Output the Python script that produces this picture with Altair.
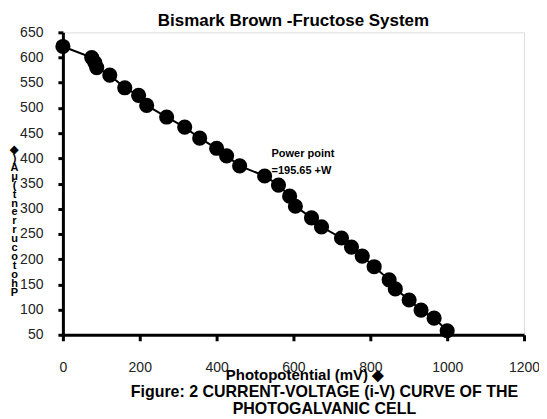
import altair as alt
import pandas as pd

# Data
potential_mv = [0, 75, 83, 88, 122, 161, 197, 218, 270, 317, 356, 400, 426, 460,
                525, 561, 590, 605, 647, 673, 725, 751, 779, 810, 849, 865, 901,
                932, 966, 1000]
current_ua = [622, 600, 590, 580, 565, 540, 525, 505, 482, 462, 440, 420, 405, 385,
              365, 347, 325, 305, 282, 264, 242, 224, 206, 185, 159, 141, 119,
              99, 83, 58]

x_ticks = [0, 200, 400, 600, 800, 1000, 1200]
y_ticks = [50, 100, 150, 200, 250, 300, 350, 400, 450, 500, 550, 600, 650]

title_text = "Bismark Brown -Fructose System"
x_title = "Photopotential (mV) \u25c6"
y_title_letters = ["\u25c6", ")", "A", "\u03bc", "(", "t", "n", "e", "r", "r",
                   "u", "c", "o", "t", "o", "h", "P"]
annot_lines = ["Power point", "=195.65 +W"]
caption_lines = ["Figure: 2  CURRENT-VOLTAGE (i-V) CURVE OF THE",
                 "PHOTOGALVANIC CELL"]

FONT = "Liberation Sans"

df = pd.DataFrame({"x": potential_mv, "y": current_ua})

xscale = alt.Scale(domain=[0, 1200], nice=False, zero=False)
yscale = alt.Scale(domain=[50, 650], nice=False, zero=False)

xaxis = alt.Axis(values=x_ticks, format="d", grid=False, domainColor="black", domainWidth=3,
                 tickColor="black", tickWidth=3, tickSize=6, labelFont=FONT,
                 labelFontSize=14, labelColor="#222", labelPadding=20,
                 labelOverlap=False, labelFlush=False,
                 title=x_title, titleFont=FONT, titleFontSize=15, titleFontWeight="bold",
                 titleX=242, titleY=40, titleBaseline="middle", titleAnchor=None)
yaxis = alt.Axis(values=y_ticks, format="d", grid=False, domainColor="black", domainWidth=3,
                 tickColor="black", tickWidth=3, tickSize=5, labelFont=FONT,
                 labelFontSize=14, labelColor="#222", labelPadding=15,
                 labelOverlap=False, labelFlush=False, labelSeparation=0,
                 title=y_title_letters, titleFont=FONT, titleFontSize=11,
                 titleFontWeight="bold", titleAngle=0, titleLineHeight=9,
                 titleAlign="center", titleBaseline="top", titleX=-49, titleY=111)

base = alt.Chart(df).encode(
    x=alt.X("x:Q", scale=xscale, axis=xaxis),
    y=alt.Y("y:Q", scale=yscale, axis=yaxis),
)
line = base.mark_line(color="black", strokeWidth=2)
pts = base.mark_point(filled=True, color="black", opacity=1, size=230, shape="circle")

annot_df = pd.DataFrame({"x": [543, 543], "y": [408, 375], "t": annot_lines})
annot = alt.Chart(annot_df).mark_text(font=FONT, fontSize=11, fontWeight="bold",
                                      align="left", baseline="middle", color="black").encode(
    x=alt.X("x:Q", scale=xscale, axis=xaxis), y=alt.Y("y:Q", scale=yscale, axis=yaxis),
    text="t:N")

cap_df = pd.DataFrame({"t": caption_lines, "row": [0, 1]})
cap1 = alt.Chart(cap_df.iloc[[0]]).mark_text(font=FONT, fontSize=16, fontWeight="bold",
                                             align="center", baseline="middle").encode(
    x=alt.value(262), y=alt.value(360), text="t:N")
cap2 = alt.Chart(cap_df.iloc[[1]]).mark_text(font=FONT, fontSize=16, fontWeight="bold",
                                             align="center", baseline="middle").encode(
    x=alt.value(262), y=alt.value(377), text="t:N")

chart = alt.layer(line, pts, annot, cap1, cap2).properties(
    width=462, height=303,
    title=alt.TitleParams(title_text, font=FONT, fontSize=17, fontWeight="bold",
                          anchor="middle", offset=-5, color="black"),
    autosize=alt.AutoSizeParams(type="none"),
    padding={"left": 55, "top": 24, "right": 15, "bottom": 84},
).configure_view(stroke="transparent", strokeWidth=0).configure(
    background="white").configure_axis(labelOverlap=False)

chart.save("out.html", embed_options={"renderer": "svg", "actions": False})
